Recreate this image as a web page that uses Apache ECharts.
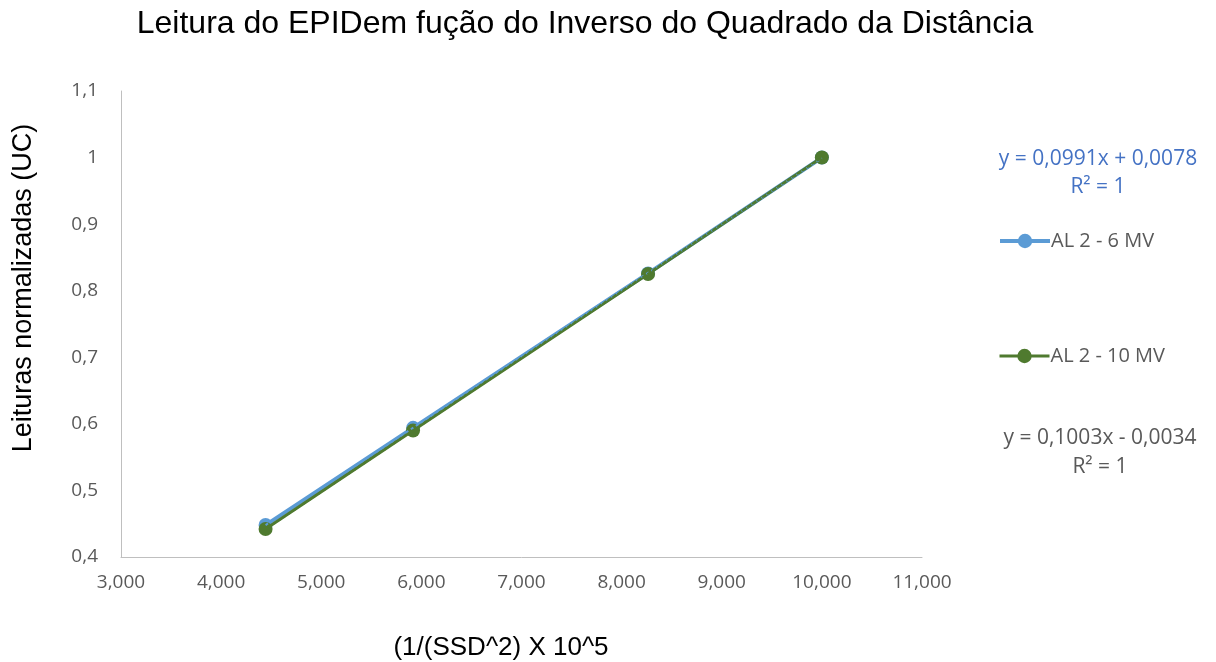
<!DOCTYPE html>
<html>
<head>
<meta charset="utf-8">
<script src="https://cdn.jsdelivr.net/npm/echarts@6/dist/echarts.min.js"></script>
<style>
  html, body { margin: 0; padding: 0; background: #fff; }
  #chart { width: 1216px; height: 662px; }
</style>
</head>
<body>
<div id="chart"></div>
<script>
// Data
const xValues = [4.444, 5.917, 8.264, 10.0];
const al6 = [0.448, 0.594, 0.826, 1.0];
const al10 = [0.442, 0.590, 0.825, 1.0];
const trend6 = [0.448, 0.594, 0.827, 0.999];
const trend10 = [0.442, 0.590, 0.825, 1.0];
const eq6 = ['y = 0,0991x + 0,0078', 'R² = 1'];
const eq10 = ['y = 0,1003x - 0,0034', 'R² = 1'];

const blue = '#5B9BD5';
const green = '#4F7A2F';
const labelFont = 'Open Sans';

function pairs(xs, ys) {
  return xs.map((x, i) => [x, ys[i]]);
}

const chart = echarts.init(document.getElementById('chart'));

const legendText = { fontFamily: labelFont, fontSize: 20, color: '#595959', padding: [0, 0, 0, -4] };

const options = {
  animation: false,
  title: {
    text: 'Leitura do EPIDem fução do Inverso do Quadrado da Distância',
    left: 580,
    top: 3,
    textAlign: 'center',
    textStyle: {
      fontFamily: 'Liberation Sans',
      fontSize: 32,
      fontWeight: 'normal',
      color: '#000'
    }
  },
  grid: { left: 121, right: 294, top: 91, bottom: 105, outerBoundsMode: 'none' },
  xAxis: {
    type: 'value',
    min: 3,
    max: 11,
    interval: 1,
    axisLine: { lineStyle: { color: '#BFBFBF', width: 1 } },
    axisTick: { show: false },
    splitLine: { show: false },
    axisLabel: {
      margin: 16,
      fontFamily: labelFont,
      fontSize: 19,
      color: '#595959',
      formatter: v => v.toFixed(3).replace('.', ',')
    }
  },
  yAxis: {
    type: 'value',
    min: 0.4,
    max: 1.1,
    interval: 0.1,
    axisLine: { show: true, lineStyle: { color: '#BFBFBF', width: 1 } },
    axisTick: { show: false },
    splitLine: { show: false },
    axisLabel: {
      margin: 23,
      fontFamily: labelFont,
      fontSize: 19,
      color: '#595959',
      formatter: v => String(Math.round(v * 10) / 10).replace('.', ',')
    }
  },
  legend: [
    {
      data: ['AL 2 - 6 MV'],
      left: 993,
      top: 226,
      itemWidth: 50,
      itemHeight: 18,
      lineStyle: { width: 4 },
      textStyle: legendText
    },
    {
      data: ['AL 2 - 10 MV'],
      left: 993,
      top: 341,
      itemWidth: 50,
      itemHeight: 18,
      lineStyle: { width: 3 },
      textStyle: legendText
    }
  ],
  graphic: [
    {
      type: 'text',
      x: 24,
      y: 288,
      rotation: Math.PI / 2,
      style: {
        text: 'Leituras normalizadas (UC)',
        align: 'center',
        verticalAlign: 'middle',
        fill: '#000',
        font: '27px "Liberation Sans"'
      }
    },
    {
      type: 'text',
      x: 501,
      y: 648,
      style: {
        text: '(1/(SSD^2) X 10^5',
        align: 'center',
        verticalAlign: 'middle',
        fill: '#000',
        font: '26px "Liberation Sans"'
      }
    },
    {
      type: 'text',
      x: 1098,
      y: 173,
      style: {
        text: eq6.join('\n'),
        align: 'center',
        verticalAlign: 'middle',
        fill: '#4472C4',
        font: '21px "Open Sans"',
        lineHeight: 28
      }
    },
    {
      type: 'text',
      x: 1100,
      y: 453,
      style: {
        text: eq10.join('\n'),
        align: 'center',
        verticalAlign: 'middle',
        fill: '#595959',
        font: '21px "Open Sans"',
        lineHeight: 29
      }
    }
  ],
  series: [
    {
      name: 'AL 2 - 6 MV',
      type: 'line',
      data: pairs(xValues, al6),
      symbol: 'circle',
      symbolSize: 14,
      lineStyle: { color: blue, width: 4 },
      itemStyle: { color: blue },
      z: 2
    },
    {
      name: 'AL 2 - 10 MV',
      type: 'line',
      data: pairs(xValues, al10),
      symbol: 'circle',
      symbolSize: 14,
      lineStyle: { color: green, width: 3 },
      itemStyle: { color: green },
      z: 3
    },
    {
      name: 'trend6',
      type: 'line',
      data: [[xValues[0], trend6[0]], [xValues[3], trend6[3]]],
      symbol: 'none',
      lineStyle: { color: blue, width: 2, type: [3, 3] },
      z: 4
    },
    {
      name: 'trend10',
      type: 'line',
      data: [[xValues[0], trend10[0]], [xValues[3], trend10[3]]],
      symbol: 'none',
      lineStyle: { color: green, width: 2, type: [3, 3], dashOffset: 3 },
      z: 4
    }
  ]
};

chart.setOption(options);
</script>
</body>
</html>
